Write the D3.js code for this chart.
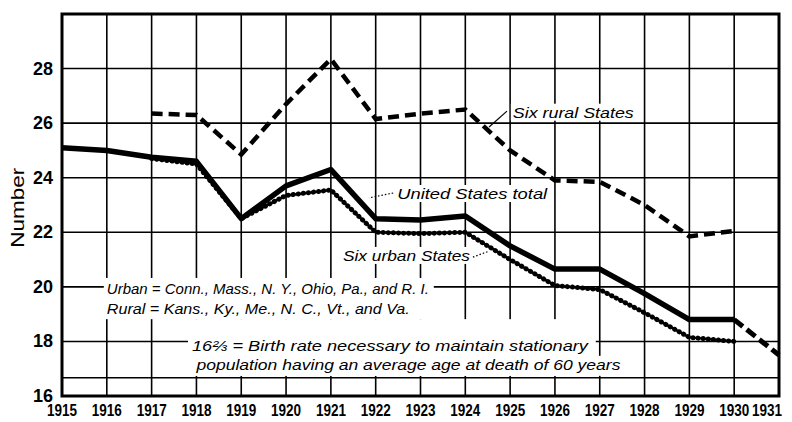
<!DOCTYPE html>
<html>
<head>
<meta charset="utf-8">
<script src="https://cdn.jsdelivr.net/npm/d3@7"></script>
<style>
  body { margin: 0; background: #fff; }
  svg { display: block; }
  .tick-lab { font-family: "Liberation Sans", sans-serif; font-weight: bold; fill: #000; }
  .note { font-family: "Liberation Sans", sans-serif; font-style: italic; fill: #000; }
</style>
</head>
<body>
<div id="chart"></div>
<script>
// birth rate per 1,000 population
var years = [1915, 1916, 1917, 1918, 1919, 1920, 1921, 1922, 1923, 1924, 1925, 1926, 1927, 1928, 1929, 1930, 1931];
var usTotal = [25.1, 25.0, 24.75, 24.6, 22.5, 23.7, 24.3, 22.5, 22.45, 22.6, 21.5, 20.65, 20.65, 19.75, 18.8, 18.8, 17.5];
var ruralYears = [1917, 1918, 1919, 1920, 1921, 1922, 1923, 1924, 1925, 1926, 1927, 1928, 1929, 1930];
var rural = [26.35, 26.3, 24.85, 26.7, 28.35, 26.15, 26.35, 26.5, 25.0, 23.9, 23.85, 23.0, 21.85, 22.05];
var urbanYears = [1917, 1918, 1919, 1920, 1921, 1922, 1923, 1924, 1925, 1926, 1927, 1928, 1929, 1930];
var urban = [24.7, 24.5, 22.5, 23.35, 23.55, 22.0, 21.95, 22.0, 21.0, 20.05, 19.9, 19.05, 18.15, 18.0];
var yTicks = [16, 18, 20, 22, 24, 26, 28];
var stationary = 16 + 2 / 3;

var W = 792, H = 422;
var margin = { top: 14, right: 13, bottom: 26, left: 62 };

var svg = d3.select("#chart").append("svg")
  .attr("width", W).attr("height", H);

var x = d3.scaleLinear().domain([1915, 1931]).range([margin.left, W - margin.right]);
var y = d3.scaleLinear().domain([16, 30]).range([H - margin.bottom, margin.top]);

// grid
var grid = svg.append("g").attr("stroke", "#000").attr("stroke-width", 1.6);
grid.selectAll("line.v").data(years.slice(1, -1)).enter().append("line")
  .attr("x1", function (d) { return x(d); }).attr("x2", function (d) { return x(d); })
  .attr("y1", y(30)).attr("y2", y(16));
grid.selectAll("line.h").data(yTicks.slice(1).concat([stationary])).enter().append("line")
  .attr("x1", x(1915)).attr("x2", x(1931))
  .attr("y1", function (d) { return y(d); }).attr("y2", function (d) { return y(d); });

// axis labels
svg.selectAll("text.ylab").data(yTicks).enter().append("text")
  .attr("class", "tick-lab")
  .attr("x", x(1915) - 9).attr("y", function (d) { return y(d) + 6; })
  .attr("text-anchor", "end").style("font-size", "18px")
  .text(function (d) { return d; });
svg.selectAll("text.xlab").data(years).enter().append("text")
  .attr("class", "tick-lab")
  .attr("x", function (d) { return Math.min(x(d), W - 25); }).attr("y", H - 6)
  .attr("text-anchor", "middle").style("font-size", "16px")
  .attr("textLength", 30).attr("lengthAdjust", "spacingAndGlyphs")
  .text(function (d) { return d; });
svg.append("text")
  .attr("transform", "translate(24," + y(22.9) + ") rotate(-90)")
  .attr("text-anchor", "middle")
  .style("font-family", "Liberation Sans, sans-serif").style("font-size", "19px")
  .attr("textLength", 80).attr("lengthAdjust", "spacingAndGlyphs")
  .text("Number");

// notes, with a white knockout under them
var notes = [
  { t: "Urban = Conn., Mass., N. Y., Ohio, Pa., and R. I.", yr: 1916.0, v: 19.74, w: 322 },
  { t: "Rural = Kans., Ky., Me., N. C., Vt., and Va.", yr: 1916.0, v: 19.0, w: 303 },
  { t: "16⅔ = Birth rate necessary to maintain stationary", yr: 1917.9, v: 17.66, w: 396 },
  { t: "population having an average age at death of 60 years", yr: 1918.0, v: 16.96, w: 424 }
];
var lineLabels = [
  { t: "Six rural States", yr: 1925.06, v: 26.2, w: 121 },
  { t: "United States total", yr: 1922.48, v: 23.22, w: 150 },
  { t: "Six urban States", yr: 1921.27, v: 20.95, w: 127 }
];

var knock = svg.append("g");
var noteG = svg.append("g");
noteG.selectAll("text").data(notes.concat(lineLabels)).enter().append("text")
  .attr("class", "note")
  .attr("x", function (d) { return x(d.yr); })
  .attr("y", function (d) { return y(d.v); })
  .attr("textLength", function (d) { return d.w; })
  .attr("lengthAdjust", "spacingAndGlyphs")
  .style("font-size", "15px")
  .text(function (d) { return d.t; });

var boxes = noteG.selectAll("text").nodes().map(function (n) { return n.getBBox(); });
// first two notes share one block, next two another that reaches up to it
var b0 = { x: boxes[0].x - 3, y: boxes[0].y - 2, w: Math.max(boxes[0].width, boxes[1].width) + 8, h: boxes[1].y + boxes[1].height - boxes[0].y + 4 };
var b1 = { x: boxes[2].x - 4, y: b0.y + b0.h, w: boxes[2].width + 10, h: boxes[3].y + boxes[3].height - b0.y - b0.h + 3 };
var b2 = { x: boxes[3].x - 3, y: boxes[3].y, w: boxes[3].width + 6, h: boxes[3].height + 3 };
var kb = [b0, b1, b2];
boxes.slice(4).forEach(function (b) { kb.push({ x: b.x - 2, y: b.y, w: b.width + 4, h: b.height }); });
knock.selectAll("rect").data(kb).enter().append("rect")
  .attr("x", function (d) { return d.x; }).attr("y", function (d) { return d.y; })
  .attr("width", function (d) { return d.w; }).attr("height", function (d) { return d.h; })
  .attr("fill", "#fff");

// leaders from labels to their lines
var leaders = [
  [[1924.93, 26.44], [1924.53, 25.86]],
  [[1922.39, 23.44], [1921.85, 23.26]],
  [[1924.17, 21.09], [1924.53, 21.31]]
];
svg.append("g").selectAll("line").data(leaders).enter().append("line")
  .attr("x1", function (d) { return x(d[0][0]); }).attr("y1", function (d) { return y(d[0][1]); })
  .attr("x2", function (d) { return x(d[1][0]); }).attr("y2", function (d) { return y(d[1][1]); })
  .attr("stroke", "#000").attr("stroke-width", 1.2)
  .attr("stroke-dasharray", function (d, i) { return i === 0 ? null : "1.5,2"; });

var line = d3.line().x(function (d) { return x(d[0]); }).y(function (d) { return y(d[1]); });

// six urban States: chain of dots
var urbanPts = d3.zip(urbanYears, urban);
svg.append("path").datum(urbanPts).attr("d", line)
  .attr("fill", "none").attr("stroke", "#000").attr("stroke-width", 2.4);
svg.append("path").datum(urbanPts).attr("d", line)
  .attr("fill", "none").attr("stroke", "#000").attr("stroke-width", 5)
  .attr("stroke-linecap", "round").attr("stroke-dasharray", "0.1,5");

// six rural States
svg.append("path").datum(d3.zip(ruralYears, rural)).attr("d", line)
  .attr("fill", "none").attr("stroke", "#000").attr("stroke-width", 4.5)
  .attr("stroke-dasharray", "11,6");

// United States total, last year dashed
var usPts = d3.zip(years, usTotal);
svg.append("path").datum(usPts.slice(0, -1)).attr("d", line)
  .attr("fill", "none").attr("stroke", "#000").attr("stroke-width", 5.5)
  .attr("stroke-linejoin", "round");
svg.append("path").datum(usPts.slice(-2)).attr("d", line)
  .attr("fill", "none").attr("stroke", "#000").attr("stroke-width", 5)
  .attr("stroke-dasharray", "11,5");

// frame
svg.append("rect")
  .attr("x", x(1915)).attr("y", y(30))
  .attr("width", x(1931) - x(1915)).attr("height", y(16) - y(30))
  .attr("fill", "none").attr("stroke", "#000").attr("stroke-width", 3);
</script>
</body>
</html>
